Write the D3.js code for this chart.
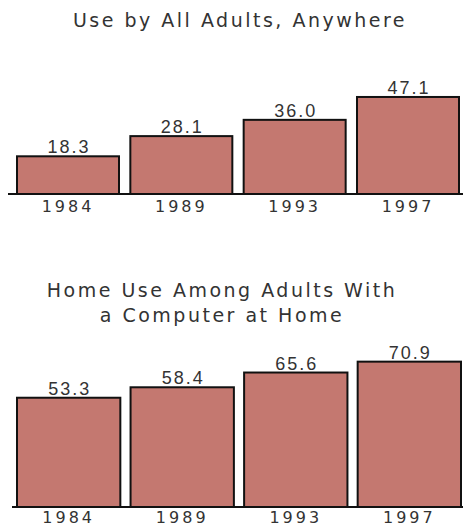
<!DOCTYPE html>
<html><head><meta charset="utf-8">
<script src="https://cdn.jsdelivr.net/npm/d3@7"></script>
<style>body{margin:0;background:#fff}svg{display:block}</style>
</head><body>
<svg id="c" width="463" height="529"></svg>
<script>
const years = ["1984", "1989", "1993", "1997"];
const anywhereValues = [18.3, 28.1, 36.0, 47.1];
const homeValues = [53.3, 58.4, 65.6, 70.9];
const titleTop = ["Use by All Adults, Anywhere"];
const titleBottom = ["Home Use Among Adults With", "a Computer at Home"];

const svg = d3.select("#c");
const barFill = "#c47870";
const textColor = "#333";

function panel(cfg) {
  const x = d3.scaleBand().domain(years).range(cfg.xr).paddingInner(cfg.pad).paddingOuter(0);
  const y = d3.scaleLinear().domain([0, cfg.ymax]).range([cfg.base, cfg.base - cfg.ymax * cfg.ppu]);
  const g = svg.append("g");
  // titles
  g.selectAll("text.title").data(cfg.title).join("text")
    .attr("class", "title")
    .attr("x", cfg.tx).attr("y", (d, i) => cfg.ty + i * 25)
    .attr("text-anchor", "middle")
    .attr("font-family", "DejaVu Sans, Verdana, sans-serif")
    .attr("font-size", 19).attr("letter-spacing", 2.5)
    .attr("fill", textColor).text(d => d);
  // bars
  g.selectAll("rect").data(cfg.values).join("rect")
    .attr("x", (d, i) => x(years[i]))
    .attr("width", x.bandwidth())
    .attr("y", d => y(d))
    .attr("height", d => cfg.base - y(d))
    .attr("fill", barFill).attr("stroke", "#111").attr("stroke-width", 2);
  // category axis
  const axis = d3.axisBottom(x).tickSize(0).tickPadding(cfg.tp);
  const ax = g.append("g").attr("transform", `translate(0,${cfg.base})`).call(axis);
  ax.select(".domain").remove();
  ax.selectAll("text")
    .attr("font-family", "DejaVu Sans, Verdana, sans-serif")
    .attr("font-size", 16).attr("letter-spacing", 3)
    .attr("fill", textColor);
  g.append("line").attr("x1", cfg.lx).attr("x2", 463)
    .attr("y1", cfg.base).attr("y2", cfg.base)
    .attr("stroke", "#111").attr("stroke-width", 2);
  // value labels
  g.selectAll("text.val").data(cfg.values).join("text")
    .attr("class", "val")
    .attr("x", (d, i) => x(years[i]) + x.bandwidth() / 2 + 1)
    .attr("y", d => y(d) - 3)
    .attr("text-anchor", "middle")
    .attr("font-family", "Liberation Sans, Arial, sans-serif")
    .attr("font-size", 18).attr("letter-spacing", 2)
    .attr("fill", textColor).text(d => d.toFixed(1));
}

panel({values: anywhereValues, title: titleTop, tx: 240, ty: 27, xr: [17, 459], pad: 0.1,
  ymax: 50, base: 194, ppu: 2.06, lx: 8, tp: 7});
panel({values: homeValues, title: titleBottom, tx: 222, ty: 297, xr: [17, 461], pad: 0.09,
  ymax: 75, base: 507, ppu: 2.05, lx: 12, tp: 5});
</script>
</body></html>
